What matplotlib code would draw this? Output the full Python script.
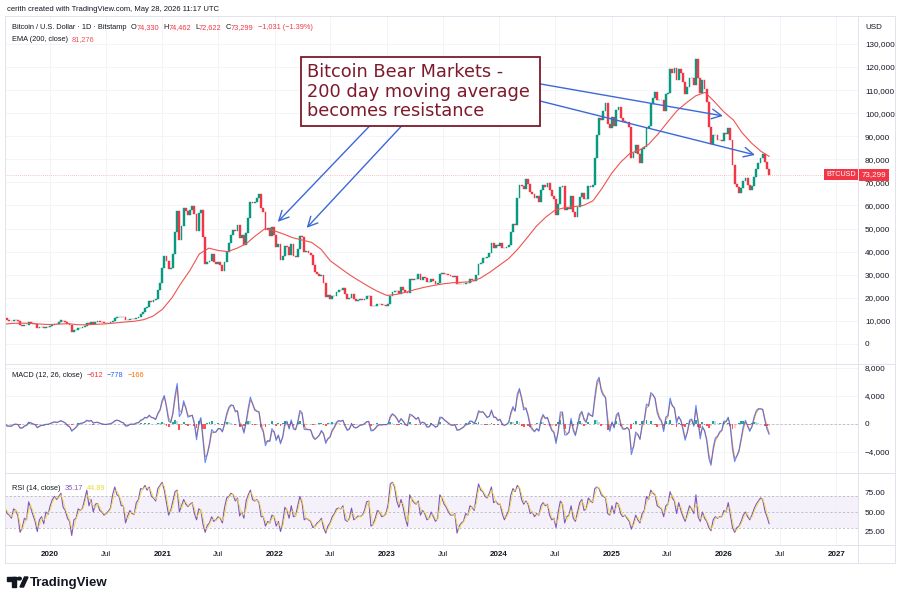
import matplotlib
matplotlib.use("Agg")
import matplotlib.pyplot as plt
import matplotlib.dates as mdates
import matplotlib.transforms as mtransforms
from matplotlib.patches import Rectangle, Polygon, Circle
from matplotlib.lines import Line2D
import numpy as np
import pandas as pd

plt.rcParams['font.family'] = ['Liberation Sans', 'DejaVu Sans']

# weekly closes (week starts Monday 2019-08-05)
close_2019 = [11380, 10230, 10140, 9760, 10400, 10300, 10000, 8050, 7870, 8300,
              8220, 9550, 9200, 8800, 8500, 6900, 7400, 7500, 7100, 7500, 7300]
close_2020 = [7750, 8180, 8700, 8600, 9350, 10150, 9900, 9700, 8550, 8040,
              5360, 5830, 5880, 6780, 6900, 7130, 7700, 8900, 8750, 9670,
              8720, 9450, 9750, 9430, 9300, 9120, 9070, 9230, 9370, 9930,
              11060, 11680, 11850, 11650, 11680, 10250, 10330, 10930, 10770, 10670,
              11380, 11500, 13030, 13740, 15480, 15960, 18400, 18180, 19150, 19270,
              23450, 26250]
close_2021 = [33000, 38200, 35800, 32300, 33100, 38900, 48700, 57500, 45200, 51200,
              59000, 57400, 55800, 58200, 59800, 56200, 49000, 56600, 58200, 46400,
              34700, 35600, 35800, 39100, 35500, 34700, 35300, 34200, 31800, 35400,
              39900, 43800, 47000, 49300, 48800, 51700, 46000, 47200, 42900, 48200,
              54700, 61500, 60900, 61300, 63300, 65000, 58700, 57300, 49400, 50100,
              46700, 50800]
close_2022 = [47300, 41900, 43100, 36300, 37900, 42400, 42200, 38400, 43200, 38100,
              37800, 41300, 46800, 46400, 39700, 40400, 39500, 38500, 34000, 31300,
              30300, 29400, 29900, 26600, 20500, 21000, 19300, 20800, 20800, 22600,
              23300, 23200, 24300, 21500, 19600, 19800, 21800, 19400, 18800, 19000,
              19400, 19100, 19600, 20600, 20900, 16300, 16300, 16450, 17100, 17100,
              16700, 16850]
close_2023 = [16600, 17100, 20900, 22700, 23000, 22900, 21800, 24600, 23500, 22400,
              22100, 28000, 27900, 28200, 28300, 30300, 27600, 29200, 28700, 26900,
              26900, 28100, 27100, 25900, 26300, 30500, 30600, 30300, 30300, 29900,
              29300, 29050, 29400, 26100, 26000, 25800, 25800, 26500, 26300, 28000,
              27900, 27100, 30000, 34500, 35000, 37100, 37400, 37500, 39400, 43800,
              41400, 43000, 42300]
close_2024 = [43900, 41700, 41600, 42100, 43000, 48300, 52100, 51700, 63100, 68900,
              68300, 67200, 71300, 69400, 65700, 64900, 63100, 63900, 61500, 66900,
              69000, 67800, 69600, 66600, 64200, 62700, 55900, 60800, 68200, 68300,
              58100, 58700, 58400, 64200, 57300, 54800, 59200, 63600, 65600, 62800,
              62800, 68400, 67900, 68700, 80400, 90600, 97700, 97200, 101100, 104500,
              95200, 93700]
close_2025 = [98300, 94500, 101300, 102700, 97700, 96500, 96100, 96300, 94200, 80700,
              82600, 86100, 82300, 78200, 84500, 85200, 93700, 94300, 104100, 106500,
              109000, 105700, 105700, 105600, 101000, 108400, 108900, 119100, 117300, 119400,
              114200, 119300, 117500, 113500, 108200, 111200, 115300, 115300, 112200, 123500,
              115200, 108600, 114500, 110500, 104700, 94000, 86800, 90400, 90400, 88200,
              88500, 87800]
close_2026 = [91500, 90800, 93500, 88500, 77500, 69500, 68000, 65500, 67500, 70500,
              72000, 69000, 66500, 68500, 72500, 76000, 78500, 80500, 82500, 79000,
              76000, 73299]
first_open = 10800

# RSI(14) sampled once a week
rsi_2019 = [55, 48, 46, 42, 54, 52, 45, 24, 30, 42, 40, 63, 55, 46, 38, 25, 40, 44, 35, 50, 47]
rsi_2020 = [58, 66, 70, 66, 70, 74, 56, 52, 42, 38, 20, 40, 42, 54, 52, 55, 66, 78, 58, 66,
            50, 60, 61, 52, 50, 46, 48, 51, 55, 72, 82, 72, 70, 58, 58, 36, 45, 52, 48, 47,
            62, 66, 80, 79, 84, 78, 82, 70, 68, 64, 80, 84]
rsi_2021 = [88, 78, 62, 46, 52, 64, 76, 78, 50, 58, 66, 60, 57, 60, 62, 48, 40, 54, 52, 34,
            24, 33, 36, 44, 38, 40, 44, 42, 36, 56, 68, 70, 74, 72, 64, 68, 45, 50, 42, 64,
            72, 78, 66, 64, 66, 62, 44, 44, 32, 38, 36, 46]
rsi_2022 = [44, 32, 38, 25, 36, 56, 52, 42, 58, 44, 45, 58, 70, 62, 40, 42, 40, 38, 30, 32,
            36, 38, 42, 30, 23, 32, 36, 44, 48, 54, 55, 54, 58, 40, 38, 42, 55, 40, 42, 45,
            44, 46, 52, 63, 64, 32, 34, 42, 52, 50, 44, 45]
rsi_2023 = [48, 60, 86, 88, 82, 64, 56, 66, 56, 42, 32, 72, 66, 62, 60, 64, 46, 52, 48, 40,
            42, 50, 44, 38, 42, 72, 68, 60, 56, 50, 46, 46, 48, 23, 32, 36, 38, 48, 46, 58,
            56, 52, 70, 86, 78, 76, 70, 68, 74, 82, 62, 64, 60]
rsi_2024 = [60, 48, 40, 46, 52, 72, 80, 76, 84, 80, 66, 60, 64, 60, 48, 50, 44, 48, 46, 58,
            62, 58, 60, 46, 40, 42, 30, 50, 64, 60, 36, 44, 46, 58, 42, 38, 50, 62, 66, 52,
            54, 68, 64, 62, 80, 82, 80, 72, 70, 68, 48, 46]
rsi_2025 = [58, 48, 62, 60, 48, 44, 46, 42, 38, 28, 36, 46, 40, 36, 48, 52, 70, 66, 78, 74,
            72, 58, 56, 54, 44, 58, 60, 76, 68, 64, 48, 62, 52, 44, 38, 48, 58, 54, 48, 72,
            44, 38, 50, 42, 38, 30, 26, 40, 44, 42, 44, 44]
rsi_2026 = [52, 50, 62, 46, 30, 24, 30, 32, 38, 46, 50, 44, 40, 46, 54, 60, 64, 68, 66, 52,
            44, 35.17]

# EMA(200) at the start of each month, last point = last bar
ema_200 = [8500, 8900, 9000, 8900, 8600,
           8400, 8600, 8800, 8300, 8300, 8500, 8700, 9100, 9500, 9800, 10500, 12000,
           15000, 20000, 26000, 32000, 39000, 41500, 40500, 40000, 41500, 43500, 47000, 50000,
           49000, 47500, 46000, 45000, 44000, 41000, 36000, 33000, 30000, 27500, 25000, 22800,
           21000, 21500, 22300, 23500, 24500, 25300, 26000, 26500, 26700, 27000, 28500, 31000,
           34000, 37000, 41000, 46000, 51000, 55000, 58000, 59000, 59500, 60000, 62000, 67500,
           74000, 79000, 82500, 84000, 86500, 91000, 96000, 101000, 104500, 107500, 109000, 105000,
           100500, 97000, 91500, 87000, 83500, 81276]

last_day = {"O": 74330, "H": 74462, "L": 72622, "C": 73299}
last_change = "\u22121,031 (\u22121.39%)"
macd_vals = ["\u2212612", "\u2212778", "\u2212166"]
rsi_vals = ["35.17", "44.89"]

closes = close_2019 + close_2020 + close_2021 + close_2022 + close_2023 + close_2024 + close_2025 + close_2026
rsi = rsi_2019 + rsi_2020 + rsi_2021 + rsi_2022 + rsi_2023 + rsi_2024 + rsi_2025 + rsi_2026
assert len(closes) == len(rsi), (len(closes), len(rsi))

weeks = pd.date_range("2019-08-05", periods=len(closes), freq="7D") + pd.Timedelta(days=3)
ema_dates = list(pd.date_range("2019-08-01", "2026-05-01", freq="MS")) + [pd.Timestamp("2026-05-28")]
assert len(ema_dates) == len(ema_200), (len(ema_dates), len(ema_200))

close_s = pd.Series(closes, dtype=float)
opens = np.array([first_open] + closes[:-1], dtype=float)
cl = close_s.values

# daily indicator periods turned into weekly smoothing
def weekly_alpha(n):
    return 1 - (1 - 2.0 / (n + 1)) ** 7

macd = close_s.ewm(alpha=weekly_alpha(12), adjust=False).mean() - close_s.ewm(alpha=weekly_alpha(26), adjust=False).mean()
signal = macd.ewm(alpha=weekly_alpha(9), adjust=False).mean()
hist = (macd - signal).values
rsi_ma = pd.Series(rsi, dtype=float).rolling(2, min_periods=1).mean()

# colours
UP, DOWN = '#089981', '#f23645'
TXT = '#131722'
GRID = '#f0f2f6'
BORDER = '#e0e3eb'
MAROON = '#7d1a2b'
ARROW = '#3c68d8'

W, H = 902, 600
fig = plt.figure(figsize=(W / 100, H / 100), dpi=100)
fig.patch.set_facecolor('white')

def fx(px):
    return px / W

def fy(py):
    return 1 - py / H

L, R = 5, 858
ax_price = fig.add_axes([fx(L), fy(364), fx(R - L), (364 - 16) / H])
ax_macd = fig.add_axes([fx(L), fy(473), fx(R - L), (473 - 364) / H], sharex=ax_price)
ax_rsi = fig.add_axes([fx(L), fy(545), fx(R - L), (545 - 473) / H], sharex=ax_price)

# price pane
colors = np.where(cl >= opens, UP, DOWN)
body = cl - opens
ax_price.bar(weeks, body, bottom=opens, width=6, color=colors, edgecolor=colors, linewidth=0.3, zorder=3)
ax_price.plot(ema_dates, ema_200, color='#ef5350', lw=0.8, zorder=4)
ax_price.axhline(cl[-1], color=DOWN, lw=0.5, ls=(0, (1, 2)), alpha=0.6, zorder=2)
ax_price.set_ylim(-8700, 142100)
ax_price.set_yticks(range(0, 130001, 10000))
ax_price.yaxis.set_major_formatter(plt.FuncFormatter(lambda v, p: f"{v:,.0f}"))

# MACD pane
hcol = []
for i, h in enumerate(hist):
    prev = hist[i - 1] if i > 0 else 0
    if h >= 0:
        hcol.append('#26a69a' if h >= prev else '#b2dfdb')
    else:
        hcol.append('#ff5252' if h <= prev else '#ffcdd2')
ax_macd.bar(weeks, hist, width=6, color=hcol, zorder=2)
ax_macd.plot(weeks, signal, color='#ff6d00', lw=0.8, zorder=3, alpha=0.75)
ax_macd.plot(weeks, macd, color='#2962ff', lw=0.8, zorder=3, alpha=0.75)
ax_macd.axhline(0, color='#787b86', lw=0.5, ls=(0, (3, 3)), alpha=0.6)
ax_macd.set_ylim(-7000, 8570)
ax_macd.set_yticks([-4000, 0, 4000, 8000])
ax_macd.yaxis.set_major_formatter(plt.FuncFormatter(lambda v, p: f"{v:,.0f}".replace('-', '\u2212')))

# RSI pane
ax_rsi.axhspan(30, 70, color='#7e57c2', alpha=0.08, lw=0)
for lvl in (70, 50, 30):
    ax_rsi.axhline(lvl, color='#787b86', lw=0.5, ls=(0, (3, 3)), alpha=0.6)
ax_rsi.plot(weeks, rsi, color='#7e57c2', lw=0.8, zorder=3)
ax_rsi.plot(weeks, rsi_ma, color='#f5dd3a', lw=0.6, zorder=3)
ax_rsi.set_ylim(7.8, 99.9)
ax_rsi.set_yticks([25, 50, 75])
ax_rsi.yaxis.set_major_formatter(plt.FuncFormatter(lambda v, p: f"{v:.2f}"))

# shared x axis
ax_price.set_xlim(pd.Timestamp("2019-08-08"), pd.Timestamp("2027-03-13"))
tick_dates, tick_labels = [], []
for y in range(2020, 2028):
    for m in (1, 7):
        d = pd.Timestamp(f"{y}-{m:02d}-01")
        if d < pd.Timestamp("2027-03-13"):
            tick_dates.append(d)
            tick_labels.append(str(y) if m == 1 else "Jul")
ax_rsi.set_xticks(tick_dates)
ax_rsi.set_xticklabels(tick_labels)
for lab in ax_rsi.get_xticklabels():
    if lab.get_text() != "Jul":
        lab.set_fontweight('bold')

for ax in (ax_price, ax_macd, ax_rsi):
    ax.set_facecolor('white')
    ax.yaxis.tick_right()
    ax.tick_params(axis='y', length=0, pad=5, labelsize=5.9, labelcolor=TXT)
    ax.tick_params(axis='x', length=0, pad=4, labelsize=5.8, labelcolor=TXT)
    ax.grid(True, axis='x', color=GRID, lw=0.6, zorder=0)
    for sp in ax.spines.values():
        sp.set_visible(False)
ax_price.grid(True, axis='y', color=GRID, lw=0.6, zorder=0)
ax_macd.grid(True, axis='y', color=GRID, lw=0.6, zorder=0)
ax_price.tick_params(labelbottom=False)
ax_macd.tick_params(labelbottom=False)

# frame lines
def fig_line(x0, y0, x1, y1):
    fig.add_artist(Line2D([fx(x0), fx(x1)], [fy(y0), fy(y1)], color=BORDER, lw=0.7, transform=fig.transFigure))

fig_line(5, 16, 895, 16)
fig_line(5, 563, 895, 563)
fig_line(5, 16, 5, 563)
fig_line(895, 16, 895, 563)
fig_line(858, 16, 858, 563)
for yy in (364, 473, 545):
    fig_line(5, yy, 895, yy)

# annotation box and arrows
d = mdates.date2num
box_l, box_r = d(pd.Timestamp("2022-03-27")), d(pd.Timestamp("2024-05-12"))
ax_price.add_patch(Rectangle((box_l, 94500), box_r - box_l, 124350 - 94500, facecolor='white',
                             edgecolor=MAROON, lw=1.3, zorder=6))
ax_price.text(d(pd.Timestamp("2022-04-15")), 109300,
              "Bitcoin Bear Markets -\n200 day moving average\nbecomes resistance",
              ha='left', va='center', fontsize=12.8, color=MAROON, family='DejaVu Sans',
              linespacing=1.12, zorder=7)

arrows = [
    (("2022-11-06", 94500), ("2022-01-11", 52900)),
    (("2023-02-18", 94500), ("2022-04-15", 50300)),
    (("2024-05-12", 112700), ("2025-12-29", 98800)),
    (("2024-05-12", 105300), ("2026-04-12", 81900)),
]
for (t_d, t_p), (h_d, h_p) in arrows:
    ax_price.annotate('', xy=(d(pd.Timestamp(h_d)), h_p), xytext=(d(pd.Timestamp(t_d)), t_p),
                      arrowprops=dict(arrowstyle='->,head_length=0.7,head_width=0.35', color=ARROW,
                                      lw=1.0, mutation_scale=10, shrinkA=0, shrinkB=0),
                      zorder=5)

# last price label
trans = mtransforms.blended_transform_factory(ax_price.transAxes, ax_price.transData)
ax_price.text(0.9975, cl[-1], "BTCUSD", transform=trans, ha='right', va='center', color='white',
              fontsize=5.2, bbox=dict(boxstyle='square,pad=0.3', fc=DOWN, ec='none'), zorder=10, clip_on=False)
ax_price.text(1.0045, cl[-1], f"{cl[-1]:,.0f}", transform=trans, ha='left', va='center', color='white',
              fontsize=5.8, bbox=dict(boxstyle='square,pad=0.3', fc=DOWN, ec='none'), zorder=10, clip_on=False)

# legend rows
renderer = fig.canvas.get_renderer()

def text_row(x0, y0, parts, size=5.3, weight='normal'):
    x = x0
    for txt, col, gap in parts:
        x += gap
        t = fig.text(fx(x), fy(y0), txt, color=col, fontsize=size, va='baseline', ha='left', fontweight=weight)
        x += t.get_window_extent(renderer).width

text_row(7, 11, [("cerith created with TradingView.com, May 28, 2026 11:17 UTC", TXT, 0)], size=5.5)
row = [("Bitcoin / U.S. Dollar \u00b7 1D \u00b7 Bitstamp", TXT, 0)]
for k in ("O", "H", "L", "C"):
    row += [(k, TXT, 4), (f"{last_day[k]:,}", DOWN, 0)]
row += [(last_change, DOWN, 4)]
text_row(12, 29, row)
text_row(12, 41, [("EMA (200, close)", TXT, 0), (f"{ema_200[-1]:,}", '#ef5350', 4)])
text_row(12, 377, [("MACD (12, 26, close)", TXT, 0), (macd_vals[0], '#f23645', 4),
                   (macd_vals[1], '#2962ff', 4), (macd_vals[2], '#ff6d00', 4)])
text_row(12, 490, [("RSI (14, close)", TXT, 0), (rsi_vals[0], '#7e57c2', 4), (rsi_vals[1], '#e8d83a', 4)])
text_row(865, 29, [("USD", TXT, 0)], size=5.8)

# TradingView logo
fig.add_artist(Rectangle((fx(7), fy(580.5)), fx(9), 4 / H, color=TXT, transform=fig.transFigure))
fig.add_artist(Rectangle((fx(12), fy(587)), fx(4), 10 / H, color=TXT, transform=fig.transFigure))
fig.add_artist(Circle((fx(19.3), fy(578.6)), 2.0 / W, color=TXT, transform=fig.transFigure))
fig.add_artist(Polygon([(fx(20), fy(587)), (fx(24.5), fy(577)), (fx(28), fy(577)), (fx(23.5), fy(587))],
                       closed=True, color=TXT, transform=fig.transFigure))
text_row(30, 586, [("TradingView", TXT, 0)], size=9.5, weight='bold')

fig.savefig("out.png", dpi=100, facecolor='white')
